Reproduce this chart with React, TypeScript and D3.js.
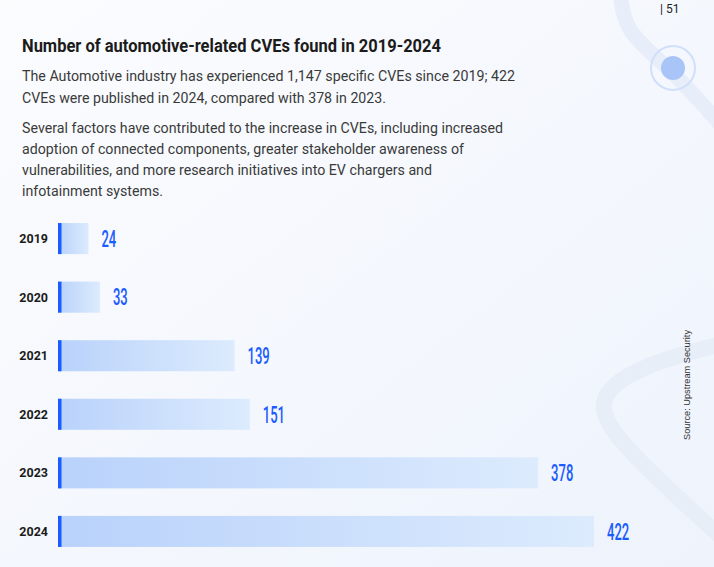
import React from 'react';
import * as d3 from 'd3';

const years = ['2019', '2020', '2021', '2022', '2023', '2024'];
const cves = [24, 33, 139, 151, 378, 422];

const title = 'Number of automotive-related CVEs found in 2019-2024';
const intro = [
  'The Automotive industry has experienced 1,147 specific CVEs since 2019; 422',
  'CVEs were published in 2024, compared with 378 in 2023.',
];
const factors = [
  'Several factors have contributed to the increase in CVEs, including increased',
  'adoption of connected components, greater stakeholder awareness of',
  'vulnerabilities, and more research initiatives into EV chargers and',
  'infotainment systems.',
];
const source = 'Source: Upstream Security';

const W = 714;
const H = 567;

const introLen = [493, 364];
const factorLen = [481, 442, 410, 141];

export default function App() {
  const x = d3.scaleLinear().domain([0, 422]).range([58, 594]);
  const y = d3.scaleBand().domain(years).range([209, 561]).paddingInner(0.47).paddingOuter(0.24);

  const curve = d3.line().curve(d3.curveBasis);
  const topCurve = curve([[620, -10], [624, 30], [660, 60], [690, 90], [730, 135]]) || '';
  const lowCurve = curve([[730, 342], [640, 365], [590, 400], [625, 450], [730, 545]]) || '';

  return (
    <svg width={W} height={H} style={{ position: 'absolute', left: 0, top: 0 }} fontFamily="Roboto, sans-serif">
      <defs>
        <linearGradient id="bg" x1="0" y1="0" x2="1" y2="1">
          <stop offset="0%" stopColor="#fbfcfe" />
          <stop offset="100%" stopColor="#eef3fc" />
        </linearGradient>
        <linearGradient id="bar" x1="0" y1="0" x2="1" y2="0">
          <stop offset="0%" stopColor="#b9d2fb" />
          <stop offset="100%" stopColor="#dcebfd" />
        </linearGradient>
      </defs>
      <rect width={W} height={H} fill="url(#bg)" />
      <path d={topCurve} fill="none" stroke="#e8eef9" strokeWidth={15} />
      <path d={lowCurve} fill="none" stroke="#e8eef8" strokeWidth={16} />
      <circle cx={673} cy={68} r={22} fill="none" stroke="#d0dffa" strokeWidth={2} />
      <circle cx={673} cy={68} r={12} fill="#a9c5f8" />
      <text x={660} y={13} fontSize={12} fill="#222">| 51</text>

      <text x={22} y={52} fontSize={19} fontWeight={700} fill="#1b1b1b" textLength={419} lengthAdjust="spacingAndGlyphs">
        {title}
      </text>
      {intro.map((t, i) => (
        <text key={t} x={22} y={81 + i * 22} fontSize={14} fill="#3a3a3a" textLength={introLen[i]} lengthAdjust="spacingAndGlyphs">
          {t}
        </text>
      ))}
      {factors.map((t, i) => (
        <text key={t} x={22} y={133 + i * 21} fontSize={14} fill="#3a3a3a" textLength={factorLen[i]} lengthAdjust="spacingAndGlyphs">
          {t}
        </text>
      ))}

      {years.map((yr, i) => {
        const y0 = y(yr) || 0;
        const bw = y.bandwidth();
        const label = String(cves[i]);
        return (
          <g key={yr}>
            <text x={48} y={y0 + bw / 2} dy="0.35em" textAnchor="end" fontSize={12.5} fontWeight={700} fill="#1b1b1b">
              {yr}
            </text>
            <rect x={x(0)} y={y0} width={x(cves[i]) - x(0)} height={bw} fill="url(#bar)" />
            <rect x={x(0)} y={y0} width={3.5} height={bw} fill="#1a5cff" />
            <text
              x={x(cves[i]) + 13}
              y={y0 + bw / 2}
              dy="0.36em"
              fontSize={23}
              fontWeight={500}
              fill="#1a5cff"
              textLength={label.length * 7.4}
              lengthAdjust="spacingAndGlyphs"
            >
              {label}
            </text>
          </g>
        );
      })}

      <text
        transform="translate(690,385) rotate(-90)"
        textAnchor="middle"
        fontSize={9.5}
        fill="#333"
        fontFamily="'Liberation Sans', Arial, sans-serif"
        textLength={110}
        lengthAdjust="spacingAndGlyphs"
      >
        {source}
      </text>
    </svg>
  );
}
